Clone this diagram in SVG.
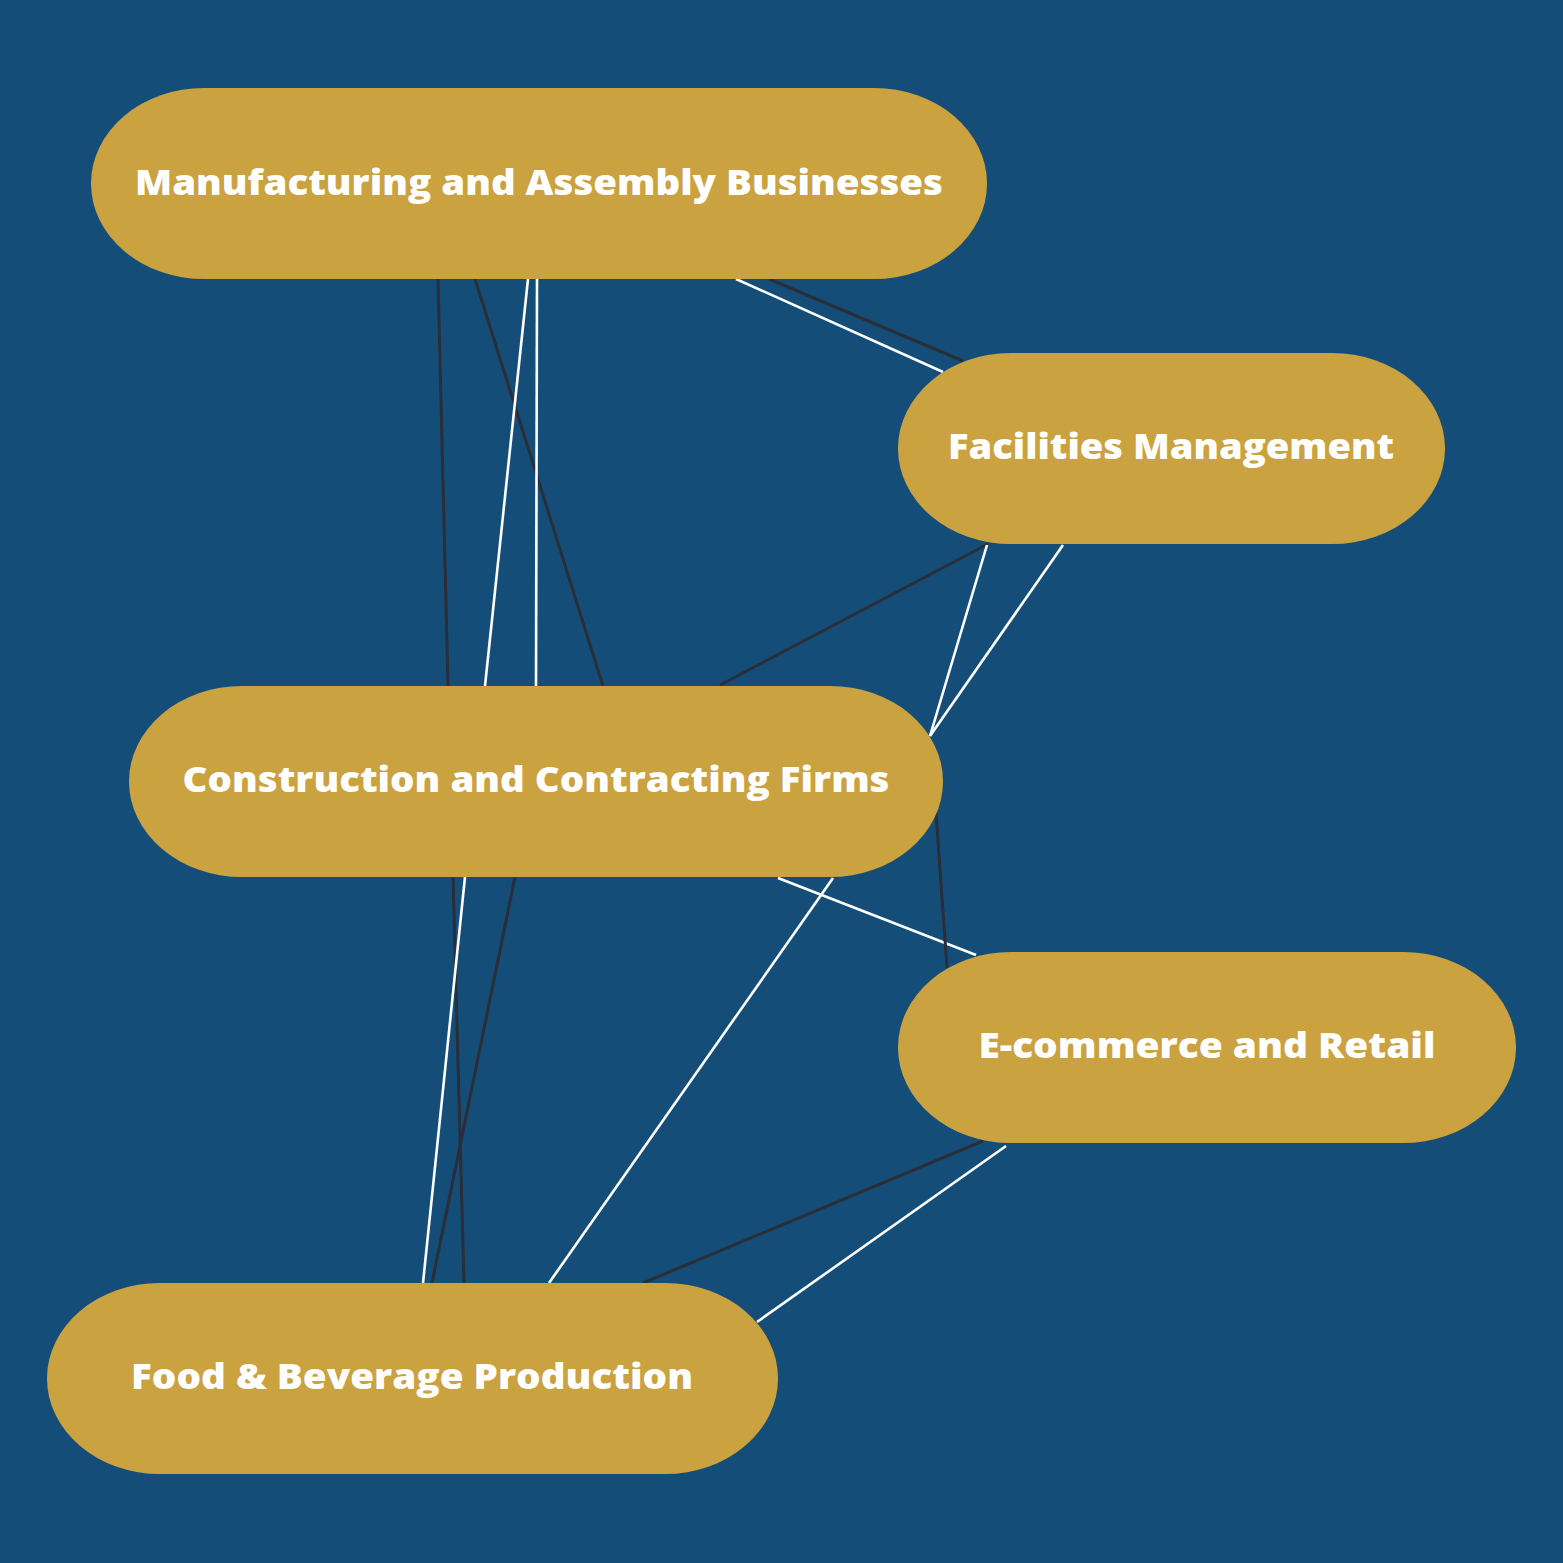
<svg xmlns="http://www.w3.org/2000/svg" width="1563" height="1563" viewBox="0 0 1563 1563">
<style>
.bg{fill:#144E78}
.node{fill:#CBA240}
.lbl{fill:#FFFFFF;font-family:"Open Sans","Liberation Sans",sans-serif;font-weight:800;font-size:36px;text-anchor:middle}
.dark{stroke:#2A2E38;stroke-width:3;fill:none}
.light{stroke:#FFFFFF;stroke-width:2.6;fill:none}
</style>
<rect class="bg" x="0" y="0" width="1563" height="1563"/>
<g id="connectors">
<line class="dark" x1="438" y1="279" x2="448" y2="686"/>
<line class="dark" x1="475" y1="279" x2="603" y2="686"/>
<line class="light" x1="528" y1="279" x2="485" y2="686"/>
<line class="light" x1="537" y1="279" x2="536" y2="686"/>
<line class="light" x1="736" y1="279" x2="943" y2="372"/>
<line class="dark" x1="769" y1="279" x2="963" y2="361"/>
<line class="dark" x1="988" y1="544" x2="720" y2="685"/>
<line class="light" x1="987" y1="545" x2="930" y2="736"/>
<line class="light" x1="1063" y1="545" x2="930" y2="736"/>
<line class="dark" x1="453" y1="877" x2="464" y2="1283"/>
<line class="light" x1="465" y1="877" x2="423" y2="1283"/>
<line class="dark" x1="515" y1="877" x2="432" y2="1283"/>
<line class="light" x1="778" y1="878" x2="976" y2="955"/>
<line class="light" x1="833" y1="878" x2="549" y2="1283"/>
<line class="dark" x1="936" y1="813" x2="947" y2="968"/>
<line class="dark" x1="983" y1="1141" x2="643" y2="1283"/>
<line class="light" x1="1006" y1="1146" x2="757" y2="1322"/>
</g>
<g id="node-manufacturing">
<rect class="node" x="91" y="88" width="896" height="191" rx="113" ry="95.5"/>
<text class="lbl" x="539" y="195" textLength="808" lengthAdjust="spacingAndGlyphs">Manufacturing and Assembly Businesses</text>
</g>
<g id="node-facilities">
<rect class="node" x="898" y="353" width="547" height="191" rx="113" ry="95.5"/>
<text class="lbl" x="1171" y="459" textLength="446" lengthAdjust="spacingAndGlyphs">Facilities Management</text>
</g>
<g id="node-construction">
<rect class="node" x="129" y="686" width="814" height="191" rx="113" ry="95.5"/>
<text class="lbl" x="536" y="792" textLength="707" lengthAdjust="spacingAndGlyphs">Construction and Contracting Firms</text>
</g>
<g id="node-ecommerce">
<rect class="node" x="898" y="952" width="618" height="191" rx="113" ry="95.5"/>
<text class="lbl" x="1207" y="1058" textLength="457" lengthAdjust="spacingAndGlyphs">E-commerce and Retail</text>
</g>
<g id="node-food">
<rect class="node" x="47" y="1283" width="731" height="191" rx="113" ry="95.5"/>
<text class="lbl" x="412" y="1389" textLength="562" lengthAdjust="spacingAndGlyphs">Food &amp; Beverage Production</text>
</g>
</svg>
